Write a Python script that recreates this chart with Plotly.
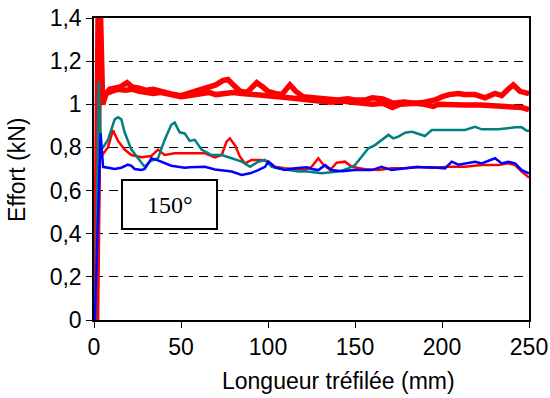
import plotly.graph_objects as go

# ---- data ----
r1_x = [1.0, 2.5, 4.5, 6, 9, 12, 15, 19, 22, 26, 30, 34, 38, 42, 46, 50, 54, 58, 62, 66, 70, 74, 77, 80, 84, 88, 91, 93.5, 97, 100, 104, 108, 112.6, 116, 120, 126, 132, 140, 146, 150, 156, 160, 166, 172, 178, 184.5, 190, 196, 200, 204, 209.4, 213, 219, 224.7, 230.5, 234.3, 238, 241, 244.8, 248.8, 250]
r1_y = [0.0, 1.6, 1.0, 1.04, 1.07, 1.075, 1.08, 1.10, 1.08, 1.075, 1.065, 1.07, 1.06, 1.055, 1.045, 1.04, 1.05, 1.06, 1.065, 1.075, 1.09, 1.11, 1.115, 1.09, 1.06, 1.055, 1.08, 1.10, 1.08, 1.06, 1.05, 1.045, 1.09, 1.06, 1.035, 1.03, 1.025, 1.02, 1.025, 1.02, 1.02, 1.03, 1.025, 1.005, 1.01, 1.005, 1.01, 1.02, 1.035, 1.045, 1.05, 1.045, 1.045, 1.03, 1.05, 1.04, 1.07, 1.09, 1.06, 1.05, 1.05]

r2_x = [1.5, 3.5, 5, 7, 10, 14, 18, 22, 26, 30, 34, 38, 42, 46, 50, 54, 58, 62, 66, 70, 75, 80, 85, 90, 95, 100, 106, 112, 118, 124, 130, 136, 142, 148, 154, 160, 166, 171.5, 176, 184.5, 190, 195, 198, 205, 213, 222, 232, 240, 245.8, 250]
r2_y = [0.0, 1.5, 1.0, 1.05, 1.06, 1.07, 1.065, 1.07, 1.06, 1.055, 1.05, 1.055, 1.05, 1.045, 1.035, 1.04, 1.045, 1.05, 1.055, 1.045, 1.05, 1.055, 1.05, 1.045, 1.045, 1.04, 1.035, 1.03, 1.025, 1.02, 1.015, 1.01, 1.015, 1.01, 1.005, 1.0, 1.005, 0.985, 1.0, 1.005, 1.0, 0.99, 1.0, 0.997, 0.997, 0.997, 0.99, 0.99, 0.985, 0.975]

r3_x = [1.5, 3.5, 5.2, 8, 10.9, 13.8, 17.6, 21.5, 27.2, 32.9, 36.8, 40.6, 46.4, 54, 58, 63.8, 69.5, 73.4, 76.2, 78.1, 81, 83.9, 86.8, 90.6, 96.4, 100.2, 104, 109.8, 121.3, 125.1, 128.9, 131.8, 135.7, 139.5, 144.3, 148.1, 155.7, 163.4, 171.1, 178.8, 185.7, 194.1, 203.6, 213.2, 222.8, 232.4, 238.1, 242, 245.8, 250]
r3_y = [0.0, 0.80, 0.77, 0.80, 0.88, 0.83, 0.79, 0.765, 0.755, 0.76, 0.79, 0.765, 0.773, 0.775, 0.773, 0.773, 0.754, 0.765, 0.827, 0.842, 0.81, 0.757, 0.726, 0.742, 0.742, 0.734, 0.71, 0.703, 0.695, 0.71, 0.75, 0.72, 0.695, 0.729, 0.734, 0.71, 0.699, 0.695, 0.703, 0.703, 0.71, 0.705, 0.71, 0.71, 0.718, 0.718, 0.726, 0.718, 0.688, 0.66]

teal_x = [0.8, 2.7, 3.9, 5.2, 8.0, 11.9, 13.8, 15.7, 17.6, 21.5, 27.2, 29.1, 32.0, 36.8, 40.6, 44.4, 46.4, 49.2, 52.1, 55.0, 57.9, 61.8, 67.6, 73.4, 79.1, 84.9, 89.7, 94.4, 98.3, 102.1, 105.9, 111.7, 117.4, 122.4, 130.9, 140.4, 146.2, 150.0, 153.8, 157.7, 161.5, 165.3, 169.2, 172.0, 174.9, 178.8, 182.6, 184.5, 190.2, 194.1, 203.6, 213.2, 219.0, 222.8, 232.4, 242.0, 245.8, 248.8, 250]
teal_y = [0.0, 1.105, 0.80, 0.80, 0.835, 0.93, 0.94, 0.93, 0.87, 0.79, 0.73, 0.71, 0.735, 0.75, 0.835, 0.905, 0.915, 0.87, 0.865, 0.83, 0.835, 0.79, 0.765, 0.765, 0.75, 0.734, 0.71, 0.734, 0.742, 0.71, 0.703, 0.695, 0.688, 0.688, 0.68, 0.688, 0.703, 0.718, 0.757, 0.796, 0.811, 0.834, 0.858, 0.842, 0.85, 0.868, 0.873, 0.868, 0.853, 0.881, 0.881, 0.881, 0.896, 0.884, 0.884, 0.893, 0.893, 0.877, 0.877]

blue_x = [0.5, 3.8, 5.2, 8, 11.9, 15.7, 19.5, 21.5, 23.4, 27.2, 29.1, 32.0, 32.9, 36.8, 40.6, 44.4, 48.3, 52.1, 55, 58, 63.8, 69.5, 73.4, 79.1, 84.9, 89.7, 94.4, 98.3, 100.2, 104.0, 109.8, 115.5, 122.4, 125.1, 128.9, 132.8, 136.6, 142.4, 150, 159.6, 165.3, 171.1, 178.8, 185.7, 194.1, 201.7, 205.6, 209.4, 219, 222.8, 230.5, 234.3, 238.1, 242, 245.8, 250]
blue_y = [0.0, 0.865, 0.71, 0.706, 0.70, 0.706, 0.72, 0.715, 0.70, 0.695, 0.70, 0.735, 0.75, 0.74, 0.726, 0.715, 0.71, 0.706, 0.708, 0.708, 0.71, 0.698, 0.695, 0.688, 0.672, 0.68, 0.695, 0.71, 0.734, 0.708, 0.695, 0.703, 0.708, 0.70, 0.695, 0.718, 0.695, 0.69, 0.695, 0.695, 0.71, 0.695, 0.703, 0.708, 0.708, 0.703, 0.734, 0.72, 0.734, 0.726, 0.75, 0.726, 0.734, 0.726, 0.695, 0.68]

x_ticks = [0, 50, 100, 150, 200, 250]
y_ticks = [0, 0.2, 0.4, 0.6, 0.8, 1.0, 1.2, 1.4]
y_tick_text = ["0", "0,2", "0,4", "0,6", "0,8", "1", "1,2", "1,4"]
x_title = "Longueur tréfilée (mm)"
y_title = "Effort (kN)"
label_text = "150°"

fig = go.Figure()
for xs, ys, col, w in [
    (r1_x, r1_y, "#FF0000", 5.5),
    (r2_x, r2_y, "#FF0000", 5.5),
    (r3_x, r3_y, "#FF0000", 2.5),
    (teal_x, teal_y, "#008080", 2.5),
    (blue_x, blue_y, "#0000FF", 2.5),
]:
    fig.add_trace(go.Scatter(x=xs, y=ys, mode="lines",
                             line=dict(color=col, width=w),
                             showlegend=False, hoverinfo="skip"))

# label box
fig.add_shape(type="rect", xref="x", yref="y", x0=16.1, x1=70.7, y0=0.422, y1=0.649,
              line=dict(color="black", width=2), fillcolor="white", layer="above")
fig.add_annotation(x=43.4, y=0.535, xref="x", yref="y", text=label_text, showarrow=False,
                   font=dict(family="Liberation Serif", size=24, color="black"))

font = dict(family="Liberation Sans, Arial", size=23, color="black")
# axis titles
fig.add_annotation(x=0.563, y=-0.202, xref="paper", yref="paper", text=x_title,
                   showarrow=False, xanchor="center", yanchor="middle", font=font)
fig.add_annotation(x=-0.177, y=0.497, xref="paper", yref="paper", text=y_title,
                   showarrow=False, xanchor="center", yanchor="middle", textangle=-90, font=font)

fig.update_layout(
    width=550, height=398,
    margin=dict(l=94, r=21, t=18, b=78),
    paper_bgcolor="white", plot_bgcolor="white",
    font=font,
    xaxis=dict(range=[0, 250], tickvals=x_ticks, ticks="outside", ticklen=6, tickwidth=1,
               tickcolor="black", showline=True, linecolor="black", linewidth=1.5,
               mirror=True, showgrid=False, zeroline=False, automargin=False),
    yaxis=dict(range=[0, 1.4], tickvals=y_ticks, ticktext=y_tick_text, ticks="outside",
               ticklen=6, tickwidth=1, tickcolor="black", showline=True, linecolor="black",
               linewidth=1.5, mirror=True, showgrid=True, gridcolor="black", gridwidth=1,
               griddash="9px,6px", zeroline=False, automargin=False),
)
fig.write_html("out.html", config={"displayModeBar": False},
               post_script="document.body.style.margin='0';document.body.style.overflow='hidden';")
